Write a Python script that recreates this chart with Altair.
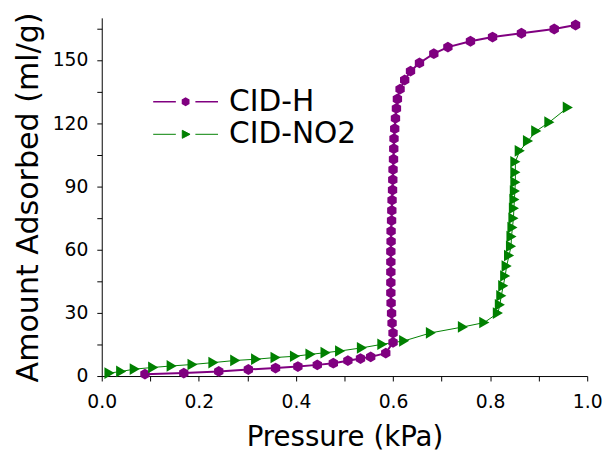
import altair as alt
import pandas as pd

# ---- data ----
series_names = ["CID-H", "CID-NO2"]

cid_h_pressure = [0.089, 0.169, 0.241, 0.302, 0.358, 0.404, 0.444, 0.477, 0.507, 0.533,
                  0.554, 0.585, 0.600, 0.600, 0.598, 0.597, 0.596, 0.5955, 0.5955, 0.5955,
                  0.5955, 0.5955, 0.596, 0.596, 0.597, 0.5975, 0.598, 0.599, 0.5995, 0.600,
                  0.601, 0.6015, 0.602, 0.6035, 0.605, 0.607, 0.609, 0.6145, 0.624, 0.636,
                  0.6545, 0.684, 0.713, 0.7595, 0.805, 0.8645, 0.932, 0.976]
cid_h_amount = [0.9, 1.4, 2.2, 3.1, 3.8, 4.5, 5.3, 6.1, 7.3, 8.3,
                9.1, 10.9, 16.0, 20.4, 25.1, 29.8, 34.7, 39.5, 44.4, 49.4,
                54.2, 59.1, 63.9, 68.8, 73.8, 78.6, 83.5, 88.3, 93.2, 98.0,
                102.9, 107.9, 112.7, 117.4, 122.3, 127.0, 131.5, 136.2, 140.5, 144.7,
                148.6, 153.0, 156.1, 158.9, 160.9, 162.7, 164.7, 166.6]

cid_no2_pressure = [0.016, 0.040, 0.068, 0.106, 0.144, 0.187, 0.230, 0.275, 0.318, 0.358,
                    0.398, 0.430, 0.461, 0.491, 0.536, 0.578, 0.623, 0.678, 0.744, 0.788,
                    0.816, 0.820, 0.823, 0.827, 0.831, 0.834, 0.839, 0.843, 0.844, 0.846,
                    0.848, 0.849, 0.850, 0.851, 0.852, 0.852, 0.852, 0.861, 0.878, 0.895,
                    0.922, 0.960]
cid_no2_amount = [1.4, 2.2, 3.3, 4.1, 4.8, 5.5, 6.4, 7.4, 8.0, 8.8,
                  9.4, 10.3, 11.1, 11.9, 13.4, 15.1, 16.7, 20.5, 23.3, 25.4,
                  29.9, 33.8, 38.1, 42.8, 47.5, 52.2, 57.2, 61.6, 66.2, 70.5,
                  74.9, 79.6, 83.8, 87.8, 92.0, 96.7, 101.7, 106.9, 111.6, 116.3,
                  120.5, 127.5]

x_tick_values = [0.0, 0.1, 0.2, 0.3, 0.4, 0.5, 0.6, 0.7, 0.8, 0.9, 1.0]
y_tick_values = [0, 15, 30, 45, 60, 75, 90, 105, 120, 135, 150, 165]

colors = ["#800080", "#008000"]
line_widths = [2, 1]
legend_line_widths = [1.6, 1.0]
marker_sizes = [120, 140]
HEX = "M0,-1L0.866,-0.5L0.866,0.5L0,1L-0.866,0.5L-0.866,-0.5Z"
data_shapes = [HEX, "triangle-right"]
legend_shapes = [
    "M-7.3,0H-2.2M2.2,0H7.3"
    "M0,-0.8L0.7,-0.4L0.7,0.4L0,0.8L-0.7,0.4L-0.7,-0.4Z"
    "M0,-0.45L0.4,-0.22L0.4,0.22L0,0.45L-0.4,0.22L-0.4,-0.22Z"
    "M-0.15,0H0.15",
    "M-7.3,0H-2.2M2.2,0H7.3"
    "M-0.75,-0.9L1.0,0L-0.75,0.9Z"
    "M-0.45,-0.5L0.5,0L-0.45,0.5Z"
    "M-0.2,-0.15L0.1,0L-0.2,0.15Z",
]
legend_y = [70, 103]

rows = []
for i, (p, a) in enumerate(zip(cid_h_pressure, cid_h_amount)):
    rows.append({"series": "CID-H", "p": p, "a": a, "idx": i})
for i, (p, a) in enumerate(zip(cid_no2_pressure, cid_no2_amount)):
    rows.append({"series": "CID-NO2", "p": p, "a": a, "idx": i})
df = pd.DataFrame(rows)

FONT = "DejaVu Sans"

x_enc = alt.X("p:Q", scale=alt.Scale(domain=[0, 1.0], nice=False, zero=False),
              axis=alt.Axis(values=x_tick_values, title="Pressure (kPa)",
                            labelExpr="round(datum.value*10) % 2 == 0 ? format(datum.value, '.1f') : ''",
                            labelFontSize=19, titleFontSize=28, titlePadding=12,
                            labelPadding=12, tickSize=5, grid=False, labelFlush=False,
                            labelOverlap=False))
y_enc = alt.Y("a:Q", scale=alt.Scale(domain=[0, 170], nice=False),
              axis=alt.Axis(values=y_tick_values, title="Amount Adsorbed (ml/g)",
                            labelExpr="datum.value % 30 == 0 ? datum.label : ''",
                            labelFontSize=19, titleFontSize=30.5, titlePadding=9,
                            labelPadding=9, tickSize=5, grid=False, labelFlush=False,
                            labelOverlap=False))

color_scale = alt.Scale(domain=series_names, range=colors)

base = alt.Chart(df)

lines = base.mark_line().encode(
    x=x_enc, y=y_enc,
    color=alt.Color("series:N", scale=color_scale, legend=None),
    strokeWidth=alt.StrokeWidth("series:N", scale=alt.Scale(domain=series_names, range=line_widths), legend=None),
    order=alt.Order("idx:Q"),
    detail="series:N",
)

points = base.mark_point(filled=True, opacity=1).encode(
    x=x_enc, y=y_enc,
    color=alt.Color("series:N", scale=color_scale, legend=None),
    shape=alt.Shape("series:N", scale=alt.Scale(domain=series_names, range=data_shapes), legend=None),
    size=alt.Size("series:N", scale=alt.Scale(domain=series_names, range=marker_sizes), legend=None),
)

legend_layers = []
for name, c, path, ly, lw in zip(series_names, colors, legend_shapes, legend_y, legend_line_widths):
    leg = alt.Legend(orient="none", legendX=70, legendY=ly, title=None,
                     labelFontSize=30, labelFont=FONT, symbolSize=81, symbolStrokeWidth=lw,
                     symbolOpacity=1, labelOffset=29, labelColor="black")
    legend_layers.append(
        base.transform_filter("false").mark_point(
            filled=False, fill=c, stroke=c, strokeWidth=lw, opacity=1
        ).encode(
            x=x_enc, y=y_enc,
            shape=alt.Shape("series:N", scale=alt.Scale(domain=[name], range=[path]), legend=leg),
        )
    )

chart = alt.layer(lines, points, *legend_layers).resolve_scale(
    shape="independent"
).properties(
    width=492, height=363,
    autosize=alt.AutoSizeParams(type="none"),
    padding={"left": 95, "top": 7, "right": 17, "bottom": 76},
    background="white",
).configure_view(stroke=None).configure_axis(
    labelFont=FONT, titleFont=FONT, labelColor="black", titleColor="black",
    domainColor="black", tickColor="black", titleFontWeight="normal",
)

chart.save("out.html", embed_options={"renderer": "svg", "actions": False})
